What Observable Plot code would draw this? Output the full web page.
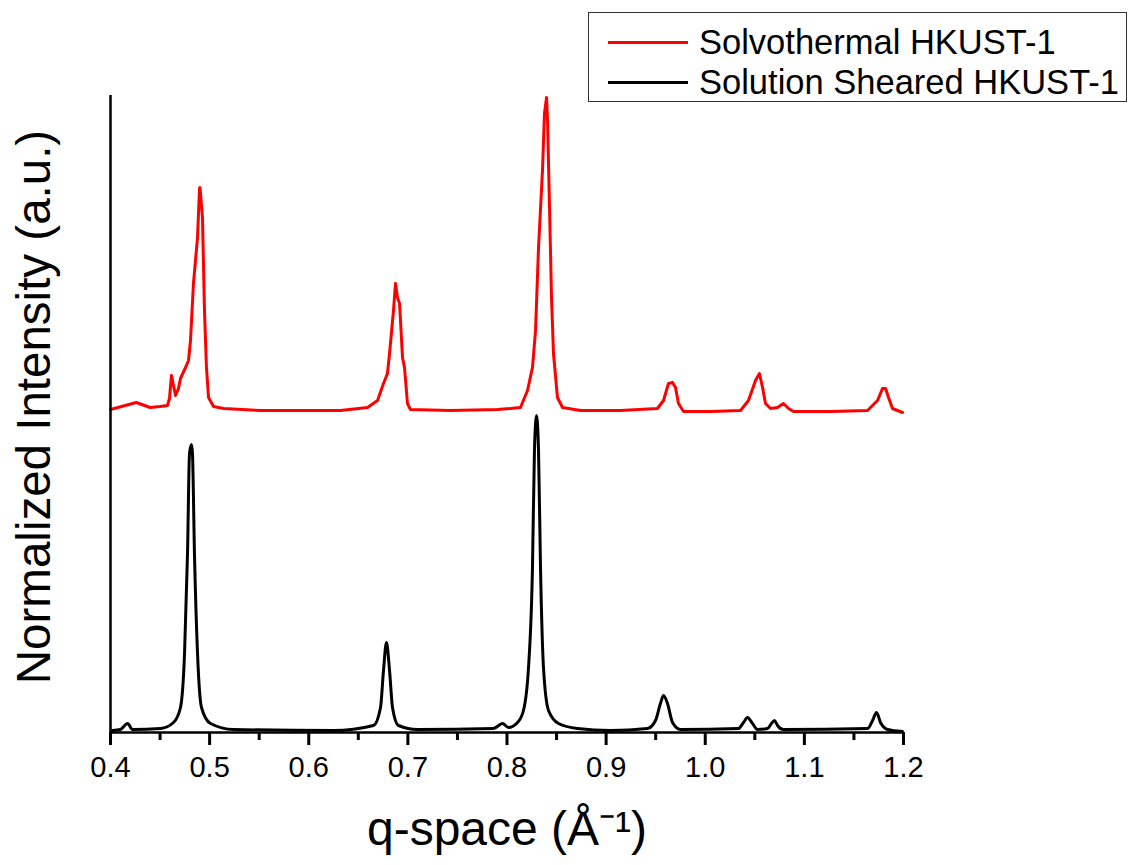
<!DOCTYPE html>
<html>
<head>
<meta charset="utf-8">
<script src="https://cdn.jsdelivr.net/npm/d3@7"></script>
<script src="https://cdn.jsdelivr.net/npm/@observablehq/plot@0.6"></script>
<style>
  html, body { margin: 0; padding: 0; background: #fff; }
  #wrap { position: relative; width: 1129px; height: 865px; font-family: "Liberation Sans", Arial, sans-serif; }
  #legend { position: absolute; left: 588px; top: 12px; width: 539px; height: 90px; border: 1px solid #333; box-sizing: border-box; background: #fff; }
  .row { position: absolute; left: 0; display: flex; align-items: center; height: 40px; }
  .swatch { width: 80px; height: 3px; margin-left: 19px; margin-right: 11px; }
  .lab { font-size: 34.5px; color: #000; white-space: nowrap; line-height: 40px; }
</style>
</head>
<body>
<div id="wrap">
  <div id="chart"></div>
  <div id="legend"></div>
</div>
<script>
// ---- Data ----
const seriesNames = ["Solvothermal HKUST-1", "Solution Sheared HKUST-1"];
const seriesColors = ["#ff0000", "#000000"];

// Solvothermal HKUST-1 (offset upward)
const qSolvo = [0.400,0.426,0.440,0.450,0.4575,0.4595,0.4615,0.4636,0.4656,0.4686,0.4706,0.4757,0.4787,0.4807,0.4837,0.4878,0.4898,0.4903,0.4928,0.4948,0.4968,0.4989,0.5039,0.5140,0.5513,0.5917,0.6320,0.6593,0.6694,0.6754,0.6794,0.6815,0.6855,0.6875,0.6895,0.6916,0.6946,0.6966,0.6996,0.7026,0.7430,0.7904,0.8035,0.8136,0.8207,0.8257,0.8288,0.8318,0.8358,0.8378,0.8399,0.8409,0.8429,0.8449,0.8469,0.8509,0.8560,0.8741,0.9145,0.9518,0.9579,0.9629,0.9670,0.9700,0.9730,0.9781,1.0053,1.0356,1.0436,1.0507,1.0547,1.0578,1.0608,1.0658,1.0729,1.0789,1.0840,1.0890,1.1264,1.1637,1.1738,1.1788,1.1819,1.1849,1.1889,1.1990];
const iSolvo = [3.23,3.30,3.25,3.26,3.27,3.34,3.57,3.47,3.37,3.44,3.54,3.65,3.72,3.92,4.49,4.95,5.44,5.45,5.15,4.22,3.65,3.35,3.26,3.24,3.22,3.22,3.22,3.25,3.32,3.49,3.59,3.79,4.22,4.49,4.35,4.29,3.75,3.65,3.29,3.23,3.22,3.23,3.24,3.25,3.42,3.65,4.02,4.85,5.62,6.19,6.35,6.12,5.25,4.35,3.79,3.35,3.25,3.22,3.22,3.24,3.32,3.49,3.50,3.45,3.29,3.21,3.21,3.22,3.32,3.52,3.59,3.45,3.29,3.24,3.25,3.29,3.24,3.21,3.21,3.22,3.32,3.44,3.44,3.35,3.24,3.20];

// Solution Sheared HKUST-1
const qShear = [0.402,0.410,0.4172,0.4222,0.4504,0.4636,0.4706,0.4747,0.4777,0.4797,0.4817,0.4827,0.4847,0.4878,0.4918,0.5009,0.5241,0.6250,0.6653,0.6724,0.6754,0.6784,0.6815,0.6845,0.6905,0.7097,0.7864,0.7955,0.8015,0.8106,0.8166,0.8217,0.8257,0.8277,0.8298,0.8318,0.8338,0.8368,0.8419,0.8520,0.8711,0.9044,0.9417,0.9498,0.9548,0.9579,0.9619,0.9670,0.9750,1.0335,1.0386,1.0426,1.0477,1.0527,1.0628,1.0668,1.0699,1.0729,1.0789,1.1637,1.1688,1.1728,1.1768,1.1839,1.1990];
const iShear = [0.02,0.03,0.09,0.03,0.04,0.10,0.25,0.79,1.79,2.79,2.88,2.79,1.79,0.79,0.25,0.09,0.03,0.02,0.07,0.25,0.62,0.90,0.62,0.25,0.07,0.03,0.04,0.09,0.05,0.10,0.22,0.65,1.65,2.82,3.17,2.82,1.65,0.65,0.22,0.09,0.04,0.02,0.04,0.12,0.29,0.37,0.29,0.10,0.03,0.04,0.10,0.15,0.09,0.03,0.04,0.09,0.12,0.07,0.03,0.04,0.12,0.20,0.10,0.03,0.01];

// Axis ticks
const xTicks = [0.4,0.5,0.6,0.7,0.8,0.9,1.0,1.1,1.2];
const xTickLabels = ["0.4","0.5","0.6","0.7","0.8","0.9","1.0","1.1","1.2"];
const xMinorTicks = [0.45,0.55,0.65,0.75,0.85,0.95,1.05,1.15];
const xTitle = "q-space (Å⁻¹)";
const yTitle = "Normalized Intensity (a.u.)";

// ---- Build ----
const solvo = qSolvo.map((q, i) => ({q, I: iSolvo[i]}));
const shear = qShear.map((q, i) => ({q, I: iShear[i]}));
const labelMap = new Map(d3.zip(xTicks, xTickLabels));
const majorTickLen = 0.13; // in intensity units below the baseline
const minorTickLen = 0.08;

const chart = Plot.plot({
  width: 1129,
  height: 865,
  marginLeft: 110,
  marginRight: 226,
  marginTop: 95,
  marginBottom: 133,
  x: {domain: [0.4, 1.2], axis: null},
  y: {domain: [0, 6.37], axis: null},
  style: {fontFamily: "'Liberation Sans', Arial, sans-serif", color: "#000"},
  marks: [
    Plot.line(solvo, {x: "q", y: "I", stroke: seriesColors[0], strokeWidth: 3, strokeLinejoin: "round"}),
    Plot.line(shear, {x: "q", y: "I", stroke: seriesColors[1], strokeWidth: 3, curve: "monotone-x"}),
    Plot.ruleY([0], {stroke: "#000", strokeWidth: 2.5}),
    Plot.ruleX([0.4], {stroke: "#000", strokeWidth: 2.5}),
    // major and minor ticks hanging below the x axis line
    Plot.ruleX(xTicks, {x: d => d, y1: 0, y2: -majorTickLen, stroke: "#000", strokeWidth: 3}),
    Plot.ruleX(xMinorTicks, {x: d => d, y1: 0, y2: -minorTickLen, stroke: "#000", strokeWidth: 3}),
    // tick labels
    Plot.text(xTicks, {x: d => d, frameAnchor: "bottom", text: d => labelMap.get(d), dy: 35, fontSize: 29, fill: "#000", lineAnchor: "middle"}),
    Plot.text([xTitle], {frameAnchor: "bottom", dy: 112, fontSize: 48, textAnchor: "middle", fill: "#000"}),
    Plot.text([yTitle], {frameAnchor: "left", dx: -76, dy: -7, rotate: -90, fontSize: 47.5, textAnchor: "middle", fill: "#000"})
  ]
});
document.getElementById("chart").append(chart);

// Legend
const legend = document.getElementById("legend");
seriesNames.forEach((name, i) => {
  const row = document.createElement("div");
  row.className = "row";
  row.style.top = (i === 0 ? 9 : 49) + "px";
  const sw = document.createElement("div");
  sw.className = "swatch";
  sw.style.background = seriesColors[i];
  const lab = document.createElement("span");
  lab.className = "lab";
  lab.textContent = name;
  row.append(sw, lab);
  legend.append(row);
});
</script>
</body>
</html>
